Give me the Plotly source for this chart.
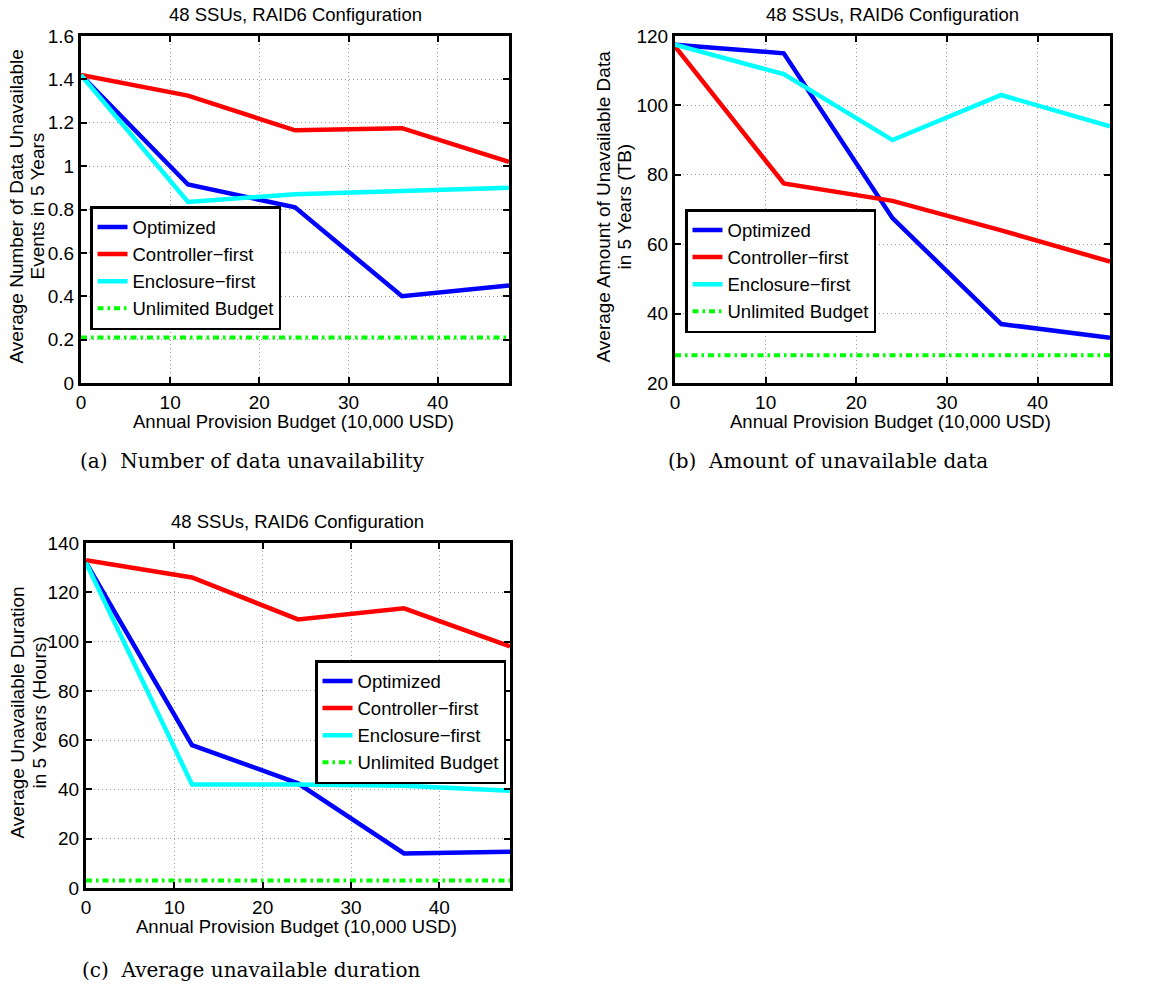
import plotly.graph_objects as go

W, H = 1165, 987

# Annual provision budget (10,000 USD)
budget = [0, 12, 24, 36, 48]

# (a) number of data unavailability events
events_opt = [1.42, 0.915, 0.81, 0.40, 0.45]
events_ctrl = [1.42, 1.325, 1.165, 1.175, 1.02]
events_encl = [1.42, 0.835, 0.87, 0.885, 0.90]
events_unl = 0.21

# (b) amount of unavailable data (TB)
amount_opt = [117.5, 115.0, 67.5, 37.0, 33.0]
amount_ctrl = [117.0, 77.5, 72.5, 64.0, 55.0]
amount_encl = [117.5, 109.0, 90.0, 103.0, 94.0]
amount_unl = 28.0

# (c) unavailable duration (hours)
dur_opt = [132.0, 58.0, 42.5, 14.0, 14.7]
dur_ctrl = [133.0, 126.0, 109.0, 113.5, 98.0]
dur_encl = [132.0, 42.0, 42.0, 41.5, 39.5]
dur_unl = 3.0

series_names = ["Optimized", "Controller\u2212first", "Enclosure\u2212first", "Unlimited Budget"]
colors = ["#0000FF", "#FF0000", "#00FFFF", "#00FF00"]

title_text = "48 SSUs, RAID6 Configuration"
xlabel = "Annual Provision Budget (10,000 USD)"
SANS = "Liberation Sans, Arial"


def px_x(p):
    return p / W


def px_y(p):
    return 1 - p / H


panels = [
    dict(data=[events_opt, events_ctrl, events_encl], unl=events_unl,
         xd=(81, 509), yd=(36, 383), yr=(0, 1.6), dt=0.2,
         ylab=["Average Number of Data Unavailable", "Events in 5 Years"], ylx=(16, 37),
         leg=(90, 206), caption="(a)  Number of data unavailability", cap=(78, 461)),
    dict(data=[amount_opt, amount_ctrl, amount_encl], unl=amount_unl,
         xd=(675, 1110), yd=(36, 383), yr=(20, 120), dt=20,
         ylab=["Average Amount of Unavailable Data", "in 5 Years (TB)"], ylx=(603, 624),
         leg=(685, 209), caption="(b)  Amount of unavailable data", cap=(666, 461)),
    dict(data=[dur_opt, dur_ctrl, dur_encl], unl=dur_unl,
         xd=(86, 510), yd=(543, 888), yr=(0, 140), dt=20,
         ylab=["Average Unavailable Duration", "in 5 Years (Hours)"], ylx=(17, 39),
         leg=(315, 660), caption="(c)  Average unavailable duration", cap=(80, 970)),
]

fig = go.Figure()
annotations = []
layout = {}

for i, p in enumerate(panels):
    n = "" if i == 0 else str(i + 1)
    xa, ya = "x" + n, "y" + n
    lg = "legend" + n
    for k in range(3):
        fig.add_trace(go.Scatter(
            x=budget, y=p["data"][k], mode="lines", name=series_names[k],
            line=dict(color=colors[k], width=4.5), xaxis=xa, yaxis=ya, legend=lg))
    fig.add_trace(go.Scatter(
        x=budget, y=[p["unl"]] * len(budget), mode="lines", name=series_names[3],
        line=dict(color=colors[3], width=4, dash="6px,4px,2.5px,4px"),
        xaxis=xa, yaxis=ya, legend=lg))

    axis_common = dict(
        showline=True, linewidth=3, linecolor="black", mirror="ticks",
        ticks="inside", ticklen=6, tickwidth=2, tickcolor="black",
        showgrid=True, gridcolor="#9a9a9a", griddash="1px,3px", gridwidth=1,
        zeroline=False, automargin=False,
        tickfont=dict(family=SANS, size=19, color="black"),
    )
    layout["xaxis" + n] = dict(
        axis_common, domain=[px_x(p["xd"][0]), px_x(p["xd"][1])],
        range=[0, 48], tick0=0, dtick=10, anchor=ya, ticklabelstandoff=0)
    layout["yaxis" + n] = dict(
        axis_common, domain=[px_y(p["yd"][1]), px_y(p["yd"][0])],
        range=list(p["yr"]), tick0=0, dtick=p["dt"], anchor=xa)
    layout[lg] = dict(
        x=px_x(p["leg"][0]), y=px_y(p["leg"][1]), xanchor="left", yanchor="top",
        bgcolor="white", bordercolor="black", borderwidth=2.5,
        font=dict(family=SANS, size=18.5, color="black"),
        itemwidth=30, tracegroupgap=0)

    cx = (p["xd"][0] + p["xd"][1]) / 2
    # panel title
    annotations.append(dict(
        text=title_text, x=px_x(cx), y=px_y(p["yd"][0] - 22), xref="paper", yref="paper",
        xanchor="center", yanchor="middle", showarrow=False,
        font=dict(family=SANS, size=18.5, color="black")))
    # x-axis label
    annotations.append(dict(
        text=xlabel, x=px_x(cx - 2), y=px_y(p["yd"][1] + 38), xref="paper", yref="paper",
        xanchor="center", yanchor="middle", showarrow=False,
        font=dict(family=SANS, size=18.5, color="black")))
    # y-axis label (two lines)
    cy = (p["yd"][0] + p["yd"][1]) / 2 - 3
    for j, line in enumerate(p["ylab"]):
        annotations.append(dict(
            text=line, x=px_x(p["ylx"][j]),
            y=px_y(cy), xref="paper", yref="paper",
            xanchor="center", yanchor="middle", textangle=-90, showarrow=False,
            font=dict(family=SANS, size=19, color="black")))
    # sub-figure caption
    annotations.append(dict(
        text=p["caption"], x=px_x(p["cap"][0]), y=px_y(p["cap"][1]), xref="paper", yref="paper",
        xanchor="left", yanchor="middle", showarrow=False,
        font=dict(family="DejaVu Serif, Liberation Serif, serif", size=20, color="black")))

fig.update_layout(
    **layout,
    annotations=annotations,
    width=W, height=H,
    margin=dict(l=0, r=0, t=0, b=0, pad=0, autoexpand=False),
    paper_bgcolor="white", plot_bgcolor="white",
)

fig.write_html("out.html")
